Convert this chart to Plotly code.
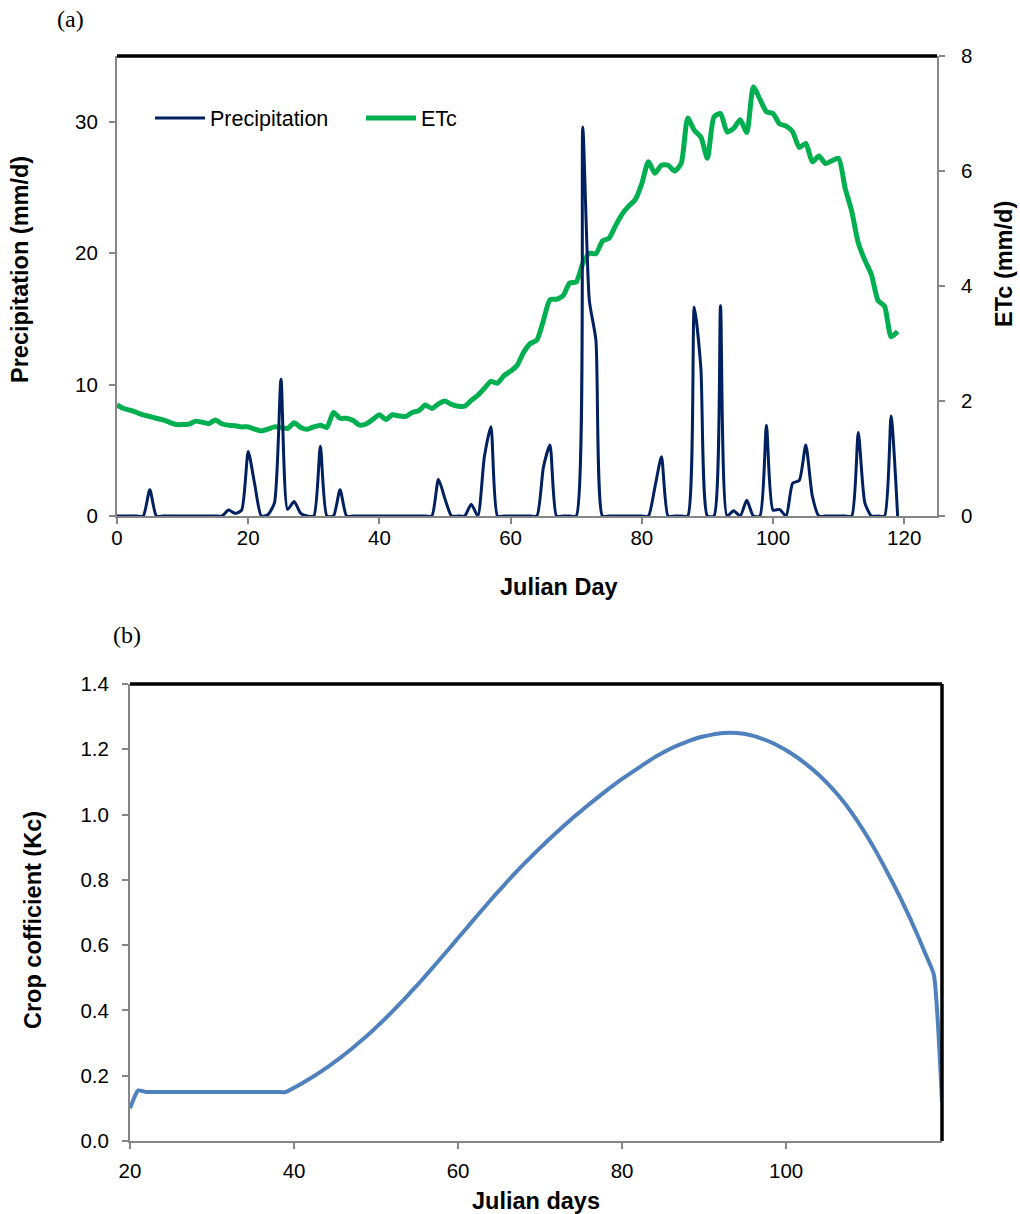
import plotly.graph_objects as go

# ---------------- data ----------------
days_a = list(range(0, 120))
precip = [0, 0, 0, 0, 0, 2.0, 0, 0, 0, 0,
          0, 0, 0, 0, 0, 0, 0, 0.45, 0.2, 0.45,
          4.9, 2.4, 0, 0.1, 1.0, 10.4, 0.5, 1.1, 0.2, 0,
          0, 5.3, 0, 0, 2.0, 0, 0, 0, 0, 0,
          0, 0, 0, 0, 0, 0, 0, 0, 0, 2.8,
          1.3, 0, 0, 0, 0.9, 0, 4.5, 6.8, 0, 0,
          0, 0, 0, 0, 0, 3.7, 5.4, 0, 0, 0,
          0, 29.6, 16.4, 13.4, 0, 0, 0, 0, 0, 0,
          0, 0, 2.2, 4.5, 0, 0, 0, 0, 15.9, 11.3,
          0, 0, 16.0, 0, 0.4, 0, 1.2, 0, 0, 6.9,
          0.45, 0.5, 0, 2.5, 2.7, 5.4, 1.5, 0, 0, 0,
          0, 0, 0, 6.35, 1.0, 0, 0, 0, 7.6, 0]
etc = [1.93, 1.87, 1.84, 1.80, 1.76, 1.73, 1.70, 1.67, 1.63, 1.59,
       1.59, 1.60, 1.65, 1.63, 1.61, 1.67, 1.60, 1.58, 1.57, 1.55,
       1.55, 1.51, 1.48, 1.51, 1.55, 1.54, 1.52, 1.62, 1.54, 1.51,
       1.55, 1.58, 1.54, 1.80, 1.70, 1.70, 1.66, 1.58, 1.60, 1.68,
       1.76, 1.68, 1.76, 1.74, 1.73, 1.80, 1.83, 1.93, 1.87, 1.95,
       2.00, 1.94, 1.91, 1.91, 2.01, 2.10, 2.22, 2.34, 2.31, 2.44,
       2.52, 2.62, 2.85, 3.00, 3.06, 3.40, 3.76, 3.77, 3.83, 4.05,
       4.07, 4.39, 4.57, 4.56, 4.78, 4.83, 5.05, 5.25, 5.39, 5.50,
       5.78, 6.16, 5.96, 6.10, 6.10, 6.00, 6.13, 6.92, 6.71, 6.59,
       6.22, 6.94, 7.00, 6.68, 6.74, 6.89, 6.67, 7.46, 7.25, 7.03,
       7.00, 6.82, 6.78, 6.68, 6.41, 6.48, 6.16, 6.26, 6.13, 6.18,
       6.22, 5.70, 5.30, 4.75, 4.45, 4.20, 3.75, 3.65, 3.12, 3.21]

days_b = list(range(20, 120))
kc = [0.10, 0.155, 0.15, 0.15, 0.15, 0.15, 0.15, 0.15, 0.15, 0.15,
      0.15, 0.15, 0.15, 0.15, 0.15, 0.15, 0.15, 0.15, 0.15, 0.150,
      0.163, 0.177, 0.192, 0.208, 0.225, 0.243, 0.262, 0.282, 0.303, 0.325,
      0.348, 0.372, 0.397, 0.423, 0.450, 0.477, 0.505, 0.534, 0.563, 0.592,
      0.622, 0.651, 0.681, 0.710, 0.739, 0.767, 0.795, 0.822, 0.848, 0.873,
      0.898, 0.922, 0.945, 0.968, 0.990, 1.011, 1.032, 1.052, 1.072, 1.091,
      1.109, 1.126, 1.143, 1.160, 1.176, 1.190, 1.203, 1.214, 1.224, 1.233,
      1.240, 1.245, 1.249, 1.251, 1.250, 1.247, 1.241, 1.233, 1.223, 1.211,
      1.197, 1.181, 1.163, 1.143, 1.121, 1.096, 1.069, 1.039, 1.005, 0.968,
      0.928, 0.885, 0.839, 0.791, 0.741, 0.688, 0.632, 0.572, 0.510, 0.12]

# ---------------- figure ----------------
W, H = 1020, 1214
FONT = "Liberation Sans, Arial, sans-serif"
SERIF = "Liberation Serif, Times New Roman, serif"
GREY = "#868686"


def px_x(v):
    return v / W


def px_y(v):
    return 1 - v / H


fig = go.Figure()
fig.add_trace(go.Scatter(x=days_a, y=precip, name="Precipitation", xaxis="x", yaxis="y2",
                         mode="lines", line=dict(color="#002060", width=3, shape="spline", smoothing=0.6)))
fig.add_trace(go.Scatter(x=days_a, y=etc, name="ETc", xaxis="x", yaxis="y",
                         mode="lines", line=dict(color="#00B050", width=5, shape="spline", smoothing=0.6)))
fig.add_trace(go.Scatter(x=days_b, y=kc, name="Kc", xaxis="x2", yaxis="y3", showlegend=False,
                         mode="lines", line=dict(color="#4F81BD", width=4, shape="spline", smoothing=0.5)))

tickfont = dict(family=FONT, size=20.5, color="black")
common = dict(showgrid=False, zeroline=False, ticks="outside", ticklen=6, tickcolor=GREY, tickwidth=1.5,
              showline=True, linecolor=GREY, linewidth=2, tickfont=tickfont, automargin=False)

fig.update_layout(
    width=W, height=H,
    margin=dict(l=0, r=0, t=0, b=0),
    paper_bgcolor="white", plot_bgcolor="white",
    font=dict(family=FONT, color="black"),
    xaxis=dict(domain=[px_x(117), px_x(937)], range=[0, 125], tick0=0, dtick=20, anchor="y",
               ticklabelstandoff=-4, **common),
    yaxis=dict(domain=[px_y(516), px_y(56)], range=[0, 8], dtick=2, side="right", anchor="x",
               ticklabelstandoff=12, **common),
    yaxis2=dict(domain=[px_y(516), px_y(56)], range=[0, 35], tick0=0, dtick=10, side="left",
                overlaying="y", anchor="x", ticklabelstandoff=7, **common),
    xaxis2=dict(domain=[px_x(130), px_x(942)], range=[20, 119], tick0=20, dtick=20, anchor="y3",
                ticklabelstandoff=4, **common),
    yaxis3=dict(domain=[px_y(1141), px_y(684)], range=[0, 1.4], tick0=0, dtick=0.2, tickformat=".1f",
                anchor="x2", ticklabelstandoff=9, **common),
    legend=dict(orientation="h", x=px_x(150), y=px_y(118), xanchor="left", yanchor="middle",
                font=dict(family=FONT, size=21.5, color="black"), bgcolor="rgba(0,0,0,0)",
                entrywidth=146, itemwidth=50, tracegroupgap=0),
    showlegend=True,
)

# frame borders (top black line on both panels, right black line on panel b)
fig.add_shape(type="line", xref="x domain", yref="y domain", x0=0, x1=1, y0=1, y1=1,
              line=dict(color="black", width=3.5))
fig.add_shape(type="line", xref="x2 domain", yref="y3 domain", x0=0, x1=1, y0=1, y1=1,
              line=dict(color="black", width=3.5))
fig.add_shape(type="line", xref="x2 domain", yref="y3 domain", x0=1, x1=1, y0=0, y1=1,
              line=dict(color="black", width=3.5))

title_font = dict(family=FONT, size=23.5, color="black")
annos = [
    dict(text="(a)", x=px_x(70), y=px_y(19), font=dict(family=SERIF, size=24)),
    dict(text="(b)", x=px_x(127), y=px_y(635), font=dict(family=SERIF, size=24)),
    dict(text="<b>Precipitation (mm/d)</b>", x=px_x(20), y=px_y(270), textangle=-90, font=title_font),
    dict(text="<b>ETc (mm/d)</b>", x=px_x(1004), y=px_y(264), textangle=-90, font=title_font),
    dict(text="<b>Julian Day</b>", x=px_x(559), y=px_y(587), font=title_font),
    dict(text="<b>Crop cofficient (Kc)</b>", x=px_x(33), y=px_y(920), textangle=-90, font=title_font),
    dict(text="<b>Julian days</b>", x=px_x(536), y=px_y(1201), font=title_font),
]
for a in annos:
    fig.add_annotation(xref="paper", yref="paper", showarrow=False, xanchor="center", yanchor="middle", **a)

# remove the default 8 px page margin so the figure fills the window exactly
fig.write_html("out.html", config={"displayModeBar": False},
               post_script="document.body.style.margin='0';document.body.style.overflow='hidden';")
